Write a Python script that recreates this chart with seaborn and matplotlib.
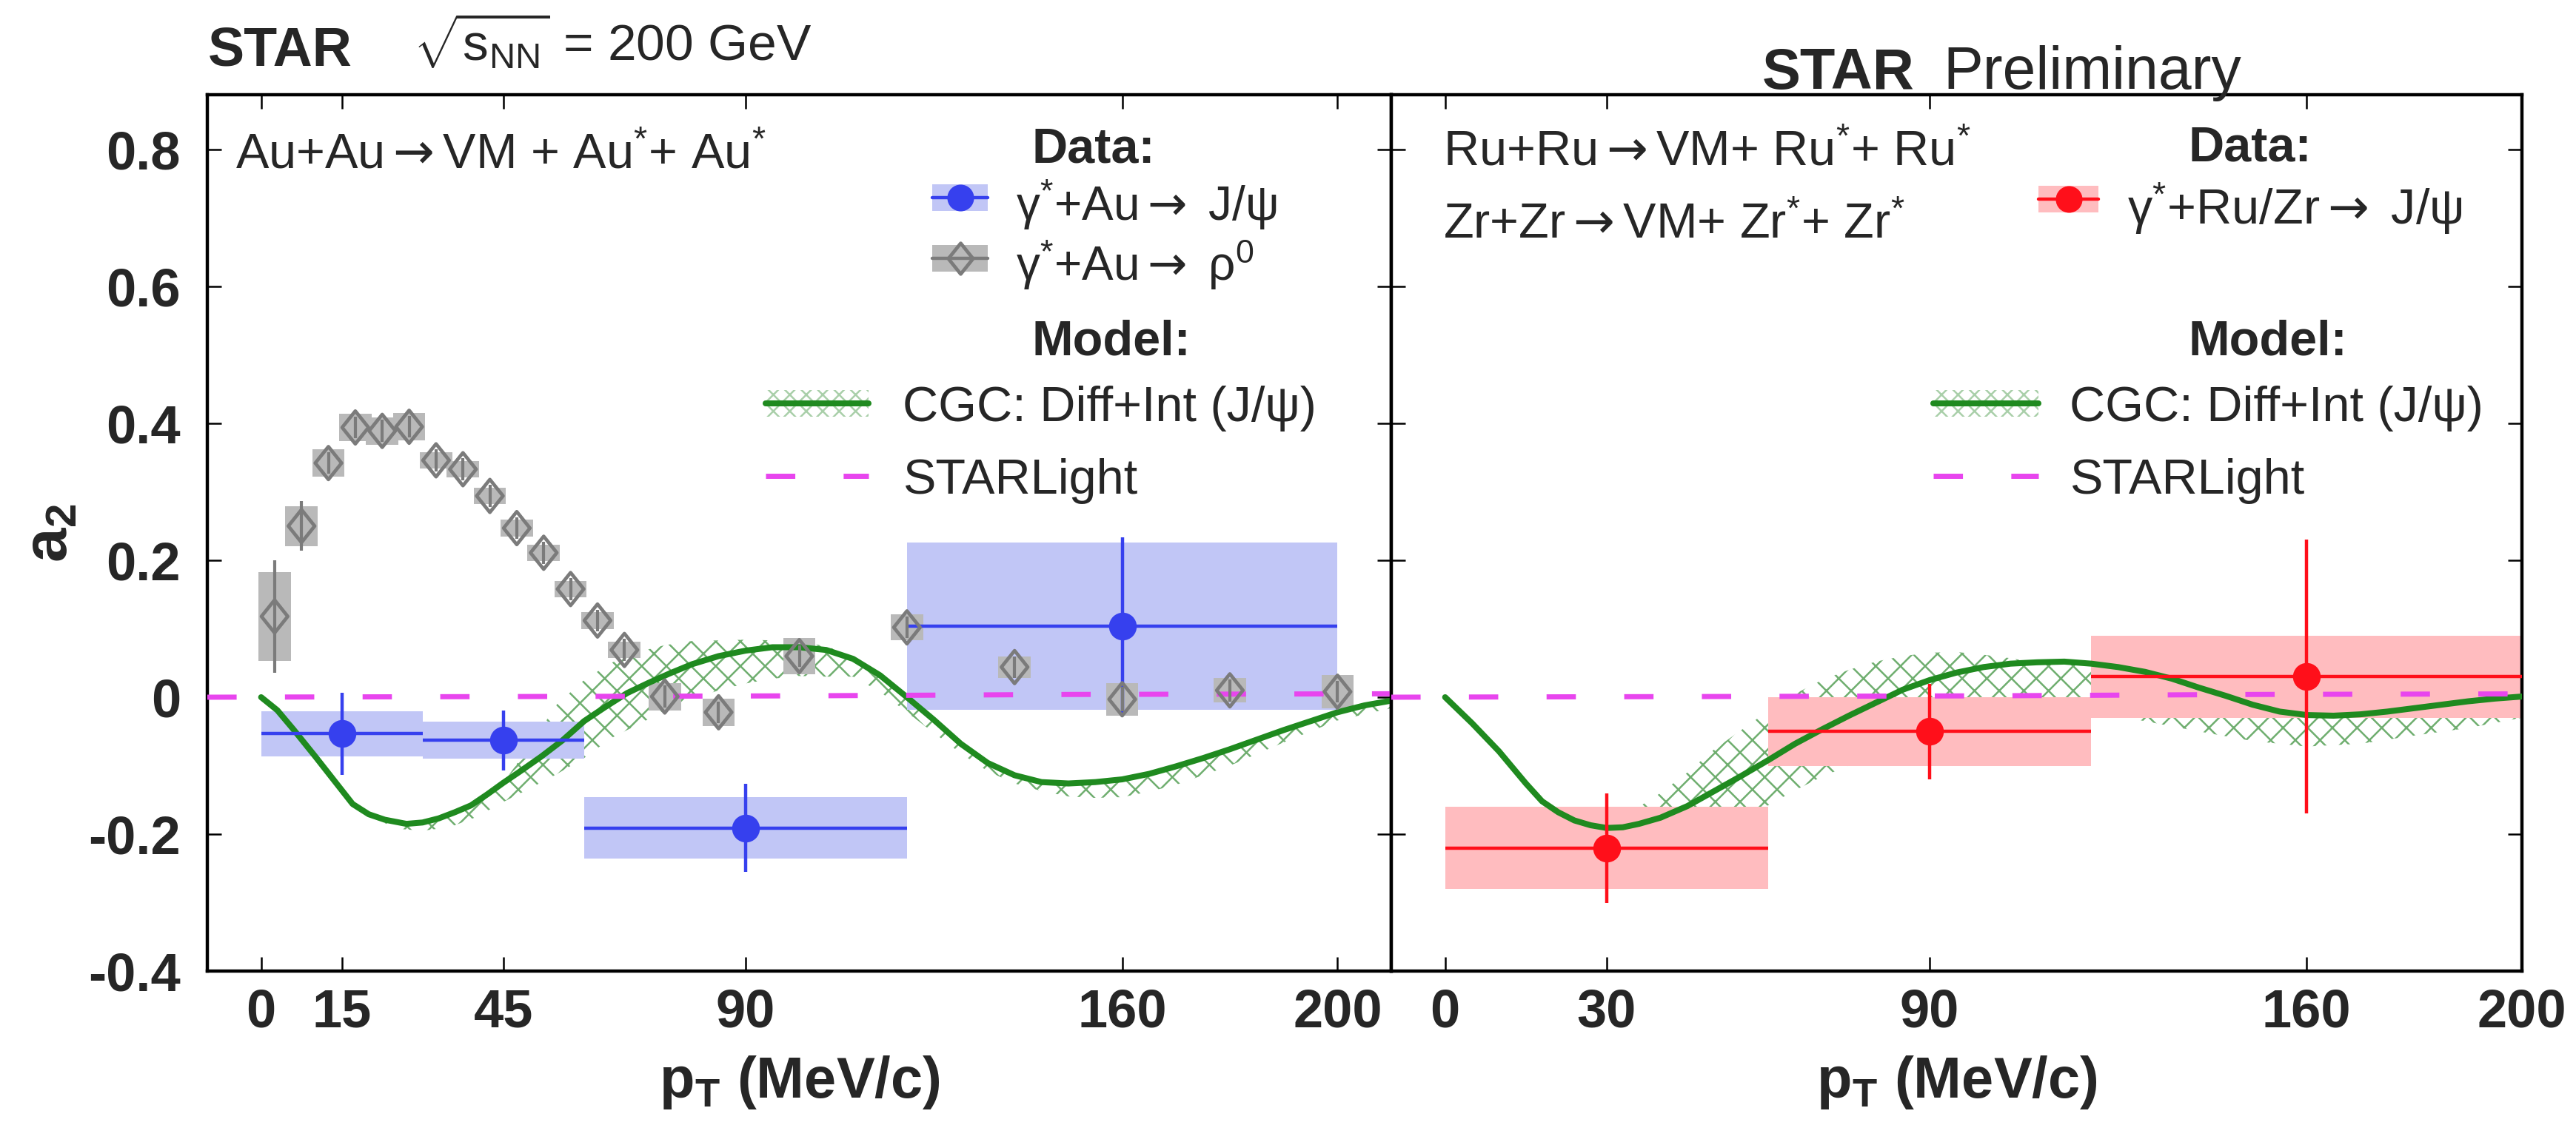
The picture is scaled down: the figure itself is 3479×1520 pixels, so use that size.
import numpy as np
import seaborn as sns
import matplotlib
matplotlib.use("Agg")
import matplotlib.pyplot as plt
from matplotlib.path import Path
from matplotlib.patches import Rectangle
from matplotlib.lines import Line2D
from matplotlib.transforms import Affine2D

# ---------------- data ----------------
# rho0 a2 in Au+Au (open diamonds)
rho_pt = [2.5, 7.5, 12.5, 17.5, 22.5, 27.5, 32.5, 37.5, 42.5, 47.5, 52.5, 57.5,
          62.5, 67.5, 75, 85, 100, 120, 140, 160, 180, 200]
rho_a2 = [0.118, 0.250, 0.342, 0.394, 0.389, 0.395, 0.346, 0.333, 0.294, 0.247,
          0.211, 0.158, 0.112, 0.069, 0.001, -0.022, 0.060, 0.102, 0.044, -0.003,
          0.010, 0.008]
rho_stat = [0.082, 0.036, 0.016, 0.016, 0.016, 0.016, 0.016, 0.016, 0.016, 0.016,
            0.016, 0.016, 0.016, 0.016, 0.016, 0.016, 0.016, 0.016, 0.016, 0.018,
            0.016, 0.016]
rho_sys = [0.065, 0.029, 0.020, 0.020, 0.020, 0.020, 0.012, 0.012, 0.012, 0.012,
           0.012, 0.012, 0.012, 0.012, 0.020, 0.020, 0.027, 0.019, 0.016, 0.024,
           0.018, 0.024]

# J/psi a2 in Au+Au
jpsi_au_pt = [15, 45, 90, 160]
jpsi_au_bin_lo = [0, 30, 60, 120]
jpsi_au_bin_hi = [30, 60, 120, 200]
jpsi_au_a2 = [-0.053, -0.063, -0.191, 0.104]
jpsi_au_stat = [0.060, 0.044, 0.064, 0.130]
jpsi_au_sys = [0.033, 0.027, 0.045, 0.122]

# J/psi a2 in Ru+Ru / Zr+Zr
jpsi_iso_pt = [30, 90, 160]
jpsi_iso_bin_lo = [0, 60, 120]
jpsi_iso_bin_hi = [60, 120, 200]
jpsi_iso_a2 = [-0.220, -0.050, 0.030]
jpsi_iso_stat = [0.080, 0.070, 0.200]
jpsi_iso_sys = [0.060, 0.050, 0.060]

# CGC (diffractive + interference) curves
cgc_au_pt = [0, 3, 6, 10, 14, 17, 20, 23, 27, 30, 33, 36, 39, 42, 45, 48, 52, 56,
             60, 64, 68, 72, 76, 80, 85, 90, 95, 100, 105, 110, 115, 120, 125,
             130, 135, 140, 145, 150, 155, 160, 165, 170, 175, 180, 185, 190,
             195, 200, 205, 210]
cgc_au_a2 = [0.000, -0.019, -0.047, -0.086, -0.126, -0.156, -0.171, -0.179,
             -0.185, -0.183, -0.177, -0.168, -0.158, -0.142, -0.125, -0.109,
             -0.087, -0.063, -0.035, -0.014, 0.006, 0.021, 0.035, 0.048, 0.060,
             0.068, 0.073, 0.073, 0.069, 0.056, 0.032, 0.000, -0.033, -0.068,
             -0.096, -0.114, -0.124, -0.126, -0.124, -0.120, -0.112, -0.101,
             -0.089, -0.076, -0.062, -0.048, -0.035, -0.022, -0.012, -0.005]

cgc_au_band_pt = [22, 25, 30, 35, 40, 45, 50, 55, 60, 65, 70, 75, 80, 85, 90, 95,
                  100, 105, 110, 115, 120, 125, 130, 135, 140, 145, 150, 155,
                  160, 165, 170, 180, 190, 200, 210]
cgc_au_band_lo = [-0.180, -0.192, -0.195, -0.190, -0.175, -0.153, -0.133, -0.112,
                  -0.089, -0.060, -0.040, -0.020, -0.003, 0.010, 0.020, 0.027,
                  0.031, 0.030, 0.030, 0.008, -0.022, -0.052, -0.082, -0.108,
                  -0.126, -0.137, -0.145, -0.147, -0.146, -0.138, -0.128, -0.100,
                  -0.066, -0.034, -0.016]
cgc_au_band_hi = [-0.176, -0.182, -0.182, -0.172, -0.155, -0.125, -0.070, -0.010,
                  0.025, 0.050, 0.066, 0.076, 0.082, 0.083, 0.084, 0.083, 0.080,
                  0.075, 0.058, 0.036, 0.005, -0.030, -0.066, -0.094, -0.112,
                  -0.122, -0.124, -0.122, -0.118, -0.110, -0.099, -0.074, -0.046,
                  -0.020, -0.004]

cgc_iso_pt = [0, 5, 10, 15, 18, 21, 24, 27, 30, 33, 36, 40, 45, 50, 55, 60, 65,
              70, 75, 80, 85, 90, 95, 100, 105, 110, 115, 120, 125, 130, 135,
              140, 145, 150, 155, 160, 165, 170, 175, 180, 185, 190, 195, 200]
cgc_iso_a2 = [0.000, -0.038, -0.079, -0.126, -0.152, -0.168, -0.180, -0.187,
              -0.191, -0.190, -0.185, -0.176, -0.159, -0.137, -0.115, -0.092,
              -0.068, -0.047, -0.027, -0.008, 0.011, 0.025, 0.036, 0.044, 0.049,
              0.051, 0.052, 0.049, 0.044, 0.037, 0.027, 0.014, 0.002, -0.011,
              -0.021, -0.026, -0.027, -0.025, -0.021, -0.016, -0.011, -0.006,
              -0.002, 0.001]

cgc_iso_band_pt = [30, 35, 40, 45, 50, 55, 60, 65, 70, 75, 80, 85, 90, 95, 100,
                   105, 110, 115, 120, 125, 130, 140, 150, 160, 170, 180, 190, 200]
cgc_iso_band_lo = [-0.210, -0.205, -0.200, -0.192, -0.182, -0.171, -0.158, -0.136,
                   -0.116, -0.100, -0.080, -0.060, -0.042, -0.027, -0.016, -0.008,
                   -0.004, -0.008, -0.018, -0.028, -0.035, -0.050, -0.064, -0.072,
                   -0.068, -0.056, -0.045, -0.030]
cgc_iso_band_hi = [-0.190, -0.165, -0.140, -0.110, -0.076, -0.048, -0.020, 0.005,
                   0.025, 0.040, 0.052, 0.060, 0.065, 0.066, 0.062, 0.057, 0.050,
                   0.052, 0.050, 0.046, 0.038, 0.016, -0.009, -0.024, -0.023,
                   -0.014, -0.005, 0.003]

# STARLight prediction
starlight_pt = [-10, 50, 100, 150, 210]
starlight_a2 = [0.000, 0.001, 0.002, 0.004, 0.005]

left_xticks = [0, 15, 45, 90, 160, 200]
right_xticks = [0, 30, 90, 160, 200]
yticks = [-0.4, -0.2, 0.0, 0.2, 0.4, 0.6, 0.8]
ytick_labels = ["-0.4", "-0.2", "0", "0.2", "0.4", "0.6", "0.8"]

# ---------------- style ----------------
sns.set_theme(style="ticks")
plt.rcParams["font.family"] = ["Liberation Sans", "DejaVu Sans"]
plt.rcParams["mathtext.fontset"] = "custom"
plt.rcParams["mathtext.rm"] = "Liberation Sans"
plt.rcParams["mathtext.it"] = "Liberation Sans:italic"
plt.rcParams["mathtext.bf"] = "Liberation Sans:bold"
plt.rcParams["mathtext.sf"] = "DejaVu Sans"   # used for the reaction arrows
plt.rcParams["hatch.linewidth"] = 0.9

ARROW = r"$\mathsf{\rightarrow}$"

BLUE = "#3640ee"
BLUE_BOX = "#c1c6f6"
RED = "#ff0f1a"
RED_BOX = "#ffbcbf"
GREY = "#7b7b7b"
GREY_BOX = "#b9b9b9"
GREEN = "#1f8a1f"
HATCH = "#6fae6f"
MAGENTA = "#e845ee"
STAR_DASH = (0, (5.7, 9.4))

W, H, DPI = 3479, 1520, 200
fig = plt.figure(figsize=(W / DPI, H / DPI), dpi=DPI)
fig.patch.set_facecolor("white")
ax1 = fig.add_axes([280 / W, 208 / H, 1599 / W, 1184 / H])
ax2 = fig.add_axes([1879 / W, 208 / H, 1527 / W, 1184 / H], sharey=ax1)
# pixel-space transform (origin top-left) for annotations and legends
pix = Affine2D().scale(1 / W, -1 / H).translate(0, 1) + fig.transFigure

diamond = Path([(0, 1), (0.8, 0), (0, -1), (-0.8, 0), (0, 1)],
               [Path.MOVETO, Path.LINETO, Path.LINETO, Path.LINETO, Path.CLOSEPOLY])


def draw_band(ax, pt, lo, hi):
    ax.fill_between(pt, lo, hi, facecolor="none", edgecolor=HATCH, hatch="xx",
                    linewidth=0, zorder=1)


def draw_cgc(ax, pt, a2):
    sns.lineplot(x=pt, y=a2, ax=ax, color=GREEN, linewidth=2.9, zorder=4,
                 sort=False, estimator=None)


def draw_starlight(ax):
    sns.lineplot(x=starlight_pt, y=starlight_a2, ax=ax, color=MAGENTA,
                 linewidth=2.5, zorder=5, sort=False, estimator=None)
    ax.lines[-1].set_linestyle(STAR_DASH)


def draw_binned(ax, pt, lo, hi, a2, stat, sys_, color, box_color):
    pt = np.asarray(pt, float)
    lo = np.asarray(lo, float)
    hi = np.asarray(hi, float)
    a2 = np.asarray(a2, float)
    sys_ = np.asarray(sys_, float)
    ax.bar(lo, 2 * sys_, bottom=a2 - sys_, width=hi - lo, align="edge",
           color=box_color, linewidth=0, zorder=2)
    ax.errorbar(pt, a2, yerr=stat, xerr=[pt - lo, hi - pt], fmt="none",
                ecolor=color, elinewidth=1.6, capsize=0, zorder=6)
    sns.scatterplot(x=pt, y=a2, ax=ax, color=color, s=13.5 ** 2, marker="o",
                    linewidth=0, zorder=7)


def draw_rho(ax):
    pt = np.asarray(rho_pt, float)
    a2 = np.asarray(rho_a2, float)
    sys_ = np.asarray(rho_sys, float)
    ax.bar(pt, 2 * sys_, bottom=a2 - sys_, width=6.0, color=GREY_BOX,
           linewidth=0, zorder=3)
    ax.errorbar(pt, a2, yerr=rho_stat, fmt="none", ecolor=GREY,
                elinewidth=1.5, capsize=0, zorder=6)
    sns.scatterplot(x=pt, y=a2, ax=ax, marker=diamond, s=16 ** 2,
                    color=GREY, linewidth=1.7, zorder=7)
    coll = ax.collections[-1]
    coll.set_facecolor("none")
    coll.set_edgecolor(GREY)


# ---- left panel: Au+Au ----
draw_band(ax1, cgc_au_band_pt, cgc_au_band_lo, cgc_au_band_hi)
draw_binned(ax1, jpsi_au_pt, jpsi_au_bin_lo, jpsi_au_bin_hi, jpsi_au_a2,
            jpsi_au_stat, jpsi_au_sys, BLUE, BLUE_BOX)
draw_rho(ax1)
draw_cgc(ax1, cgc_au_pt, cgc_au_a2)
draw_starlight(ax1)

# ---- right panel: Ru+Ru / Zr+Zr ----
draw_band(ax2, cgc_iso_band_pt, cgc_iso_band_lo, cgc_iso_band_hi)
draw_binned(ax2, jpsi_iso_pt, jpsi_iso_bin_lo, jpsi_iso_bin_hi, jpsi_iso_a2,
            jpsi_iso_stat, jpsi_iso_sys, RED, RED_BOX)
draw_cgc(ax2, cgc_iso_pt, cgc_iso_a2)
draw_starlight(ax2)

# ---- axes cosmetics ----
for ax, xt, xlim in ((ax1, left_xticks, (-10, 210)), (ax2, right_xticks, (-10, 200))):
    ax.set_xlim(*xlim)
    ax.set_ylim(-0.4, 0.88)
    ax.set_xticks(xt)
    ax.set_xticklabels([str(v) for v in xt])
    ax.set_yticks(yticks)
    ax.tick_params(axis="both", which="major", direction="in", length=6.8,
                   width=0.9, top=True, right=True, labelsize=26, color="black")
    ax.tick_params(axis="x", pad=8)
    ax.tick_params(axis="y", pad=13)
    for sp in ax.spines.values():
        sp.set_visible(True)
        sp.set_linewidth(1.6)
        sp.set_color("black")
    ax.set_facecolor("white")
    ax.set_xlabel(r"$\mathbf{p_T}$ (MeV/c)", fontsize=28, fontweight="bold",
                  labelpad=8)
    for lbl in ax.get_xticklabels():
        lbl.set_fontweight("bold")

ax1.set_yticklabels(ytick_labels)
for lbl in ax1.get_yticklabels():
    lbl.set_fontweight("bold")
ax2.tick_params(axis="y", labelleft=False)
ax1.set_ylabel(r"$\mathbf{a_2}$", fontsize=30, labelpad=4)
ax2.set_ylabel("")

# ---- header texts ----
fig.text(281, 90, "STAR", transform=pix, fontsize=26.5, fontweight="bold",
         ha="left", va="baseline")
fig.text(558, 82, r"$\sqrt{\mathrm{s}_{\mathrm{NN}}}$ = 200 GeV", transform=pix,
         fontsize=25, ha="left", va="baseline")
fig.text(2380, 120, "STAR", transform=pix, fontsize=28, fontweight="bold",
         ha="left", va="baseline")
fig.text(2624, 120, "Preliminary", transform=pix, fontsize=29,
         ha="left", va="baseline")

fig.text(318, 227, "Au+Au" + ARROW + r"VM + Au$^{*}$+ Au$^{*}$", transform=pix,
         fontsize=24, ha="left", va="baseline")
fig.text(1949, 224, "Ru+Ru" + ARROW + r"VM+ Ru$^{*}$+ Ru$^{*}$", transform=pix,
         fontsize=24, ha="left", va="baseline")
fig.text(1949, 322, "Zr+Zr" + ARROW + r"VM+ Zr$^{*}$+ Zr$^{*}$", transform=pix,
         fontsize=24, ha="left", va="baseline")


# ---- legends (drawn in pixel space) ----
def leg_box(x0, x1, y0, y1, color):
    fig.add_artist(Rectangle((x0, y0), x1 - x0, y1 - y0, transform=pix,
                             facecolor=color, edgecolor="none"))


def leg_data(x0, x1, yc, color, box_color, marker, ms, hollow=False):
    leg_box(x0, x1, yc - 18, yc + 18, box_color)
    fig.add_artist(Line2D([x0, x1], [yc, yc], transform=pix, color=color, lw=1.6))
    if hollow:
        fig.add_artist(Line2D([(x0 + x1) / 2], [yc], transform=pix, marker=marker,
                              ms=ms, mfc="none", mec=color, mew=1.7, ls="none"))
    else:
        fig.add_artist(Line2D([(x0 + x1) / 2], [yc], transform=pix, marker=marker,
                              ms=ms, mfc=color, mec="none", ls="none"))


def leg_cgc(x0, x1, yc):
    fig.add_artist(Rectangle((x0, yc - 18), x1 - x0, 36, transform=pix,
                             facecolor="white", edgecolor="#a9cfa9", hatch="xxx",
                             linewidth=0))
    fig.add_artist(Line2D([x0, x1], [yc, yc], transform=pix, color=GREEN, lw=2.9))


def leg_starlight(x0, x1, yc):
    fig.add_artist(Line2D([x0, x1], [yc, yc], transform=pix, color=MAGENTA, lw=2.5,
                          ls=STAR_DASH))


def leg_text(x, y, s, bold=False, size=24):
    fig.text(x, y, s, transform=pix, fontsize=size, ha="left", va="baseline",
             fontweight="bold" if bold else "normal")


# left legend
leg_text(1394, 219, "Data:", bold=True)
leg_data(1259, 1334, 267, BLUE, BLUE_BOX, "o", 13)
leg_text(1372, 298, r"γ$^{*}$+Au" + ARROW + " J/ψ", size=23)
leg_data(1259, 1334, 349, GREY, GREY_BOX, diamond, 15, hollow=True)
leg_text(1372, 379, r"γ$^{*}$+Au" + ARROW + r" ρ$^{0}$", size=23)
leg_text(1394, 480, "Model:", bold=True)
leg_cgc(1034, 1173, 545)
leg_text(1219, 569, "CGC: Diff+Int (J/ψ)")
leg_starlight(1034, 1173, 643)
leg_text(1219, 667, "STARLight")

# right legend
leg_text(2956, 218, "Data:", bold=True)
leg_data(2753, 2834, 269, RED, RED_BOX, "o", 13)
leg_text(2873, 303, r"γ$^{*}$+Ru/Zr" + ARROW + " J/ψ", size=24)
leg_text(2956, 480, "Model:", bold=True)
leg_cgc(2611, 2753, 545)
leg_text(2795, 569, "CGC: Diff+Int (J/ψ)")
leg_starlight(2611, 2753, 643)
leg_text(2795, 667, "STARLight")

fig.savefig("out.png", dpi=DPI, facecolor="white")
